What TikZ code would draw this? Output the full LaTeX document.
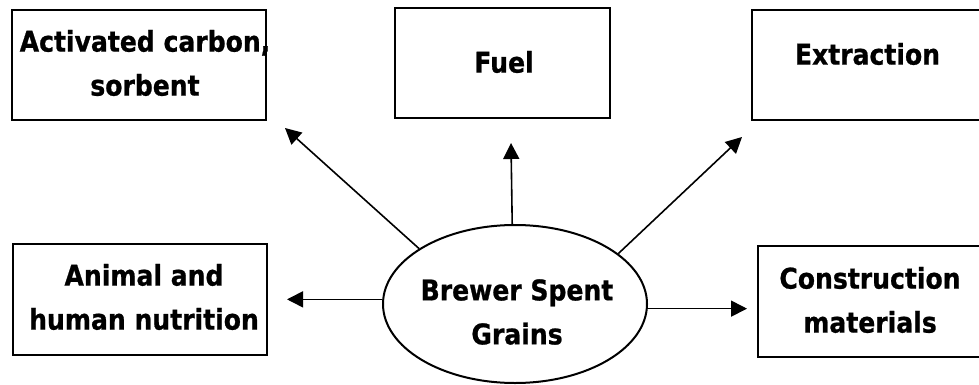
\documentclass[tikz,border=0pt]{standalone}
\usepackage{fontspec}
\setmainfont{DejaVu Sans}[FakeStretch=0.88, BoldFeatures={FakeBold=0.8}]
\usetikzlibrary{shapes.geometric,arrows.meta}
\begin{document}
\begin{tikzpicture}[x=1pt,y=-1pt,
  lbl/.style={font=\bfseries\fontsize{28.5}{44}\selectfont, align=center, inner sep=0pt},
  boxc/.style={draw, line width=2.2pt, inner sep=0pt},
  arr/.style={line width=1.6pt, -{Triangle[length=16pt,width=16pt]}}]
\useasboundingbox (0,0) rectangle (979,385);
\clip (0,0) rectangle (979,385);
% boxes
\node[boxc, minimum width=254, minimum height=110] (b1) at (139,65) {};
\node[boxc, minimum width=215, minimum height=110] (b2) at (502.5,63) {};
\node[boxc, minimum width=231, minimum height=110] (b3) at (867.5,65) {};
\node[boxc, minimum width=254, minimum height=111] (b4) at (140,299.5) {};
\node[boxc, minimum width=224, minimum height=111] (b5) at (870,301.5) {};
\node[ellipse, draw, line width=2pt, minimum width=264, minimum height=158, inner sep=0pt] (ell) at (515,304) {};
% texts
\node[lbl] (t1) at (145,63) {Activated carbon,\\sorbent};
\node[lbl] (t2) at (504,62) {Fuel};
\node[lbl] (t3) at (867.5,54) {Extraction};
\node[lbl] (t4) at (144,297) {Animal and\\human nutrition};
\node[lbl] (t5) at (870,300) {Construction\\materials};
\node[lbl] (t6) at (517,312) {Brewer Spent\\Grains};
% arrow tips
\coordinate (p1) at (285,128);
\coordinate (p2) at (511,143);
\coordinate (p3) at (742,137);
\coordinate (p4) at (287,302);
\coordinate (p5) at (747,309);
\draw[arr] (ell.150) -- (p1);
\draw[arr] (ell.92) -- (p2);
\draw[arr] (ell.26) -- (p3);
\draw[arr] (ell.178.5) -- (p4 |- ell.178.5);
\draw[arr] (ell.-2.5) -- (p5 |- ell.-2.5);
\end{tikzpicture}
\end{document}
